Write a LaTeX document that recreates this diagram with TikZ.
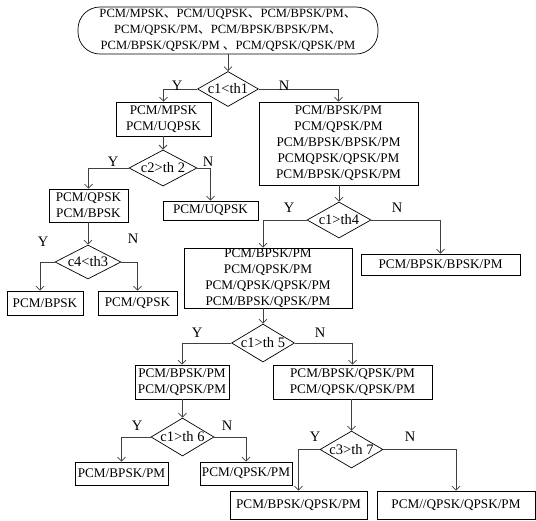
\documentclass[tikz,border=0pt]{standalone}
\usepackage{fontspec}
\setmainfont{Liberation Serif}
\newfontfamily\cjk{Noto Sans CJK SC}
\usetikzlibrary{shapes.geometric,arrows.meta}
\newcommand{\dun}{{\cjk 、}}
\begin{document}
\begin{tikzpicture}[x=1pt,y=-1pt,
  box/.style={draw=black,line width=0.7pt,inner sep=0pt,align=center,
    font=\fontsize{13.2}{16}\selectfont},
  dia/.style={draw=black,line width=0.7pt,diamond,aspect=1.7,inner sep=0pt,
    font=\fontsize{14.5}{16}\selectfont},
  yn/.style={font=\fontsize{14.5}{16}\selectfont,inner sep=0pt},
  arr/.style={draw=black!75,line width=0.8pt,-{Straight Barb[length=4pt,width=8pt]}}]
\useasboundingbox (0,0) rectangle (536,520);
% terminal
\node[box,rounded corners=22pt,minimum width=300,minimum height=47,
  font=\fontsize{12.6}{15.8}\selectfont] (top) at (228,30.5)
  {PCM/MPSK\dun PCM/UQPSK\dun PCM/BPSK/PM\dun\\
   PCM/QPSK/PM\dun PCM/BPSK/BPSK/PM\dun\\
   PCM/BPSK/QPSK/PM \dun PCM/QPSK/QPSK/PM};
% decisions
\node[dia,minimum width=61,minimum height=35] (d1) at (228,89) {c1<th1};
\node[dia,minimum width=68,minimum height=30] (d2) at (163,168) {c2>th 2};
\node[dia,minimum width=64,minimum height=36] (d4) at (339,220) {c1>th4};
\node[dia,minimum width=66,minimum height=29] (d3) at (88,262) {c4<th3};
\node[dia,minimum width=63,minimum height=38] (d5) at (263,343) {c1>th 5};
\node[dia,minimum width=63,minimum height=38] (d6) at (182.5,437) {c1>th 6};
\node[dia,minimum width=63,minimum height=37] (d7) at (351.5,449.5) {c3>th 7};
% boxes
\node[box,minimum width=95,minimum height=34] (b1) at (163.5,119) {PCM/MPSK\\PCM/UQPSK};
\node[box,minimum width=159,minimum height=83] (b2) at (338.5,143.5)
  {PCM/BPSK/PM\\PCM/QPSK/PM\\PCM/BPSK/BPSK/PM\\PCMQPSK/QPSK/PM\\PCM/BPSK/QPSK/PM};
\node[box,minimum width=79,minimum height=33] (b3) at (88.5,205.5) {PCM/QPSK\\PCM/BPSK};
\node[box,minimum width=95,minimum height=19] (b4) at (210.5,210.5) {PCM/UQPSK};
\node[box,minimum width=168,minimum height=60] (b5) at (268,278)
  {PCM/BPSK/PM\\PCM/QPSK/PM\\PCM/QPSK/QPSK/PM\\PCM/BPSK/QPSK/PM};
\node[box,minimum width=159,minimum height=21] (b6) at (440.5,264.5) {PCM/BPSK/BPSK/PM};
\node[box,minimum width=76,minimum height=24] (b7) at (45,303) {PCM/BPSK};
\node[box,minimum width=79,minimum height=24] (b8) at (137.5,303) {PCM/QPSK};
\node[box,minimum width=94,minimum height=34] (b9) at (182,382) {PCM/BPSK/PM\\PCM/QPSK/PM};
\node[box,minimum width=159,minimum height=34] (b10) at (352.5,382) {PCM/BPSK/QPSK/PM\\PCM/QPSK/QPSK/PM};
\node[box,minimum width=93,minimum height=23] (b11) at (121.5,473.5) {PCM/BPSK/PM};
\node[box,minimum width=92,minimum height=23] (b12) at (246,473.5) {PCM/QPSK/PM};
\node[box,minimum width=137,minimum height=28] (b13) at (298.5,505) {PCM/BPSK/QPSK/PM};
\node[box,minimum width=158,minimum height=28] (b14) at (456,505) {PCM//QPSK/QPSK/PM};
% vertical connectors
\draw[arr] (top.south) -- (d1.north);
\draw[arr] (d2.north |- b1.south) -- (d2.north);
\draw[arr] (d4.north |- b2.south) -- (d4.north);
\draw[arr] (d3.north |- b3.south) -- (d3.north);
\draw[arr] (d5.north |- b5.south) -- (d5.north);
\draw[arr] (d6.north |- b9.south) -- (d6.north);
\draw[arr] (d7.north |- b10.south) -- (d7.north);
% branches
\draw[arr] (d1.west) -| (b1.north);
\draw[arr] (d1.east) -| (b2.north);
\draw[arr] (d2.west) -| (b3.north);
\draw[arr] (d2.east) -| (b4.north);
\draw[arr] (d4.west) -| ([xshift=-5pt]b5.north);
\draw[arr] (d4.east) -| (b6.north);
\draw[arr] (d3.west) -| ([xshift=-5pt]b7.north);
\draw[arr] (d3.east) -| (b8.north);
\draw[arr] (d5.west) -| (b9.north);
\draw[arr] (d5.east) -| (b10.north);
\draw[arr] (d6.west) -| (b11.north);
\draw[arr] (d6.east) -| (b12.north);
\draw[arr] (d7.west) -| (b13.north);
\draw[arr] (d7.east) -| (b14.north);
% labels
\node[yn] (y1) at (177,86) {Y}; \node[yn] (n1) at (284,86) {N};
\node[yn] (y2) at (113,162) {Y}; \node[yn] (n2) at (208,162) {N};
\node[yn] (y4) at (289,208) {Y}; \node[yn] (n4) at (397,208) {N};
\node[yn] (y3) at (43,242) {Y}; \node[yn] (n3) at (133,239) {N};
\node[yn] (y5) at (197,333) {Y}; \node[yn] (n5) at (320,333) {N};
\node[yn] (y6) at (137,426) {Y}; \node[yn] (n6) at (227,426) {N};
\node[yn] (y7) at (315,437) {Y}; \node[yn] (n7) at (410,437) {N};
\end{tikzpicture}
\end{document}
